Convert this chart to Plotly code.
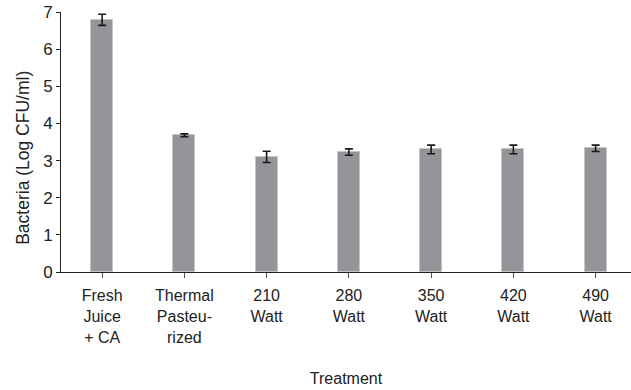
import plotly.graph_objects as go

categories = ["Fresh<br>Juice<br>+ CA", "Thermal<br>Pasteu-<br>rized", "210<br>Watt", "280<br>Watt",
              "350<br>Watt", "420<br>Watt", "490<br>Watt"]
values = [6.79, 3.68, 3.10, 3.23, 3.30, 3.30, 3.33]
errors = [0.15, 0.04, 0.15, 0.085, 0.115, 0.115, 0.085]
y_ticks = [0, 1, 2, 3, 4, 5, 6, 7]

FONT = "Liberation Sans, Arial, Helvetica, sans-serif"

fig = go.Figure(go.Bar(
    x=list(range(len(categories))), y=values, width=0.27,
    marker=dict(color="#939598", line=dict(color="#c4c5c7", width=1)),
    error_y=dict(type="data", array=errors, visible=True, color="#1a1a1a", thickness=1.6, width=4),
))

fig.update_layout(
    width=631, height=390,
    margin=dict(l=61, r=0, t=12, b=118),
    paper_bgcolor="white", plot_bgcolor="white",
    font=dict(family=FONT, size=16, color="#222222"),
    showlegend=False,
    bargap=0,
)
fig.update_xaxes(
    tickmode="array", tickvals=list(range(len(categories))), ticktext=categories,
    range=[-0.5, 6.43], showline=True, linecolor="#222222", linewidth=1,
    ticks="outside", tickson="boundaries", ticklen=5, tickcolor="#555555",
    showgrid=False, zeroline=False, automargin=False,
    tickfont=dict(size=16), ticklabelstandoff=4,
    title=dict(text="Treatment", font=dict(size=16), standoff=28),
)
fig.update_yaxes(
    range=[0, 7], tickvals=y_ticks, showline=True, linecolor="#222222", linewidth=1,
    ticks="outside", ticklen=4, tickcolor="#222222", showgrid=False, zeroline=False,
    automargin=False, tickfont=dict(size=17),
)
fig.add_annotation(
    text="Bacteria (Log CFU/ml)", textangle=-90, showarrow=False,
    xref="paper", yref="paper", x=-0.068, y=0.44, xanchor="center", yanchor="middle",
    font=dict(size=17.5),
)

fig.write_html(
    "out.html",
    config={"displayModeBar": False},
    post_script="document.body.style.margin='0';document.body.style.overflow='hidden';",
)
